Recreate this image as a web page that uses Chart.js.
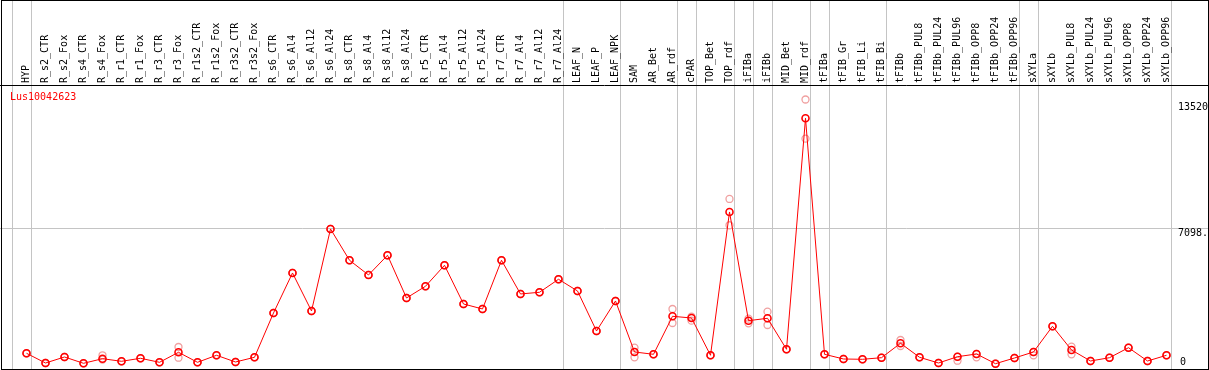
<!DOCTYPE html>
<html>
<head>
<meta charset="utf-8">
<script src="https://cdn.jsdelivr.net/npm/chart.js@4/dist/chart.umd.min.js"></script>
<style>
  html, body { margin: 0; padding: 0; background: #fff; }
  canvas { display: block; }
</style>
</head>
<body>
<canvas id="myChart" width="1209" height="370"></canvas>
<script>
const geneName = 'Lus10042623'

const categories = [
    'HYP', 'R_s2_CTR', 'R_s2_Fox', 'R_s4_CTR', 'R_s4_Fox', 'R_r1_CTR', 'R_r1_Fox', 'R_r3_CTR', 'R_r3_Fox',
    'R_r1s2_CTR', 'R_r1s2_Fox', 'R_r3s2_CTR', 'R_r3s2_Fox',
    'R_s6_CTR', 'R_s6_Al4', 'R_s6_Al12', 'R_s6_Al24', 'R_s8_CTR', 'R_s8_Al4', 'R_s8_Al12', 'R_s8_Al24',
    'R_r5_CTR', 'R_r5_Al4', 'R_r5_Al12', 'R_r5_Al24', 'R_r7_CTR', 'R_r7_Al4', 'R_r7_Al12', 'R_r7_Al24',
    'LEAF_N', 'LEAF_P', 'LEAF_NPK', 'SAM', 'AR_Bet', 'AR_rdf', 'cPAR', 'TOP_Bet', 'TOP_rdf',
    'iFIBa', 'iFIBb', 'MID_Bet', 'MID_rdf', 'tFIBa', 'tFIB_Gr', 'tFIB_Li', 'tFIB_Bi', 'tFIBb',
    'tFIBb_PUL8', 'tFIBb_PUL24', 'tFIBb_PUL96', 'tFIBb_OPP8', 'tFIBb_OPP24', 'tFIBb_OPP96',
    'sXYLa', 'sXYLb', 'sXYLb_PUL8', 'sXYLb_PUL24', 'sXYLb_PUL96', 'sXYLb_OPP8', 'sXYLb_OPP24', 'sXYLb_OPP96'
]

// mean expression per sample
const meanValues = [
    835, 350, 650, 335, 565, 435, 585, 385, 885, 385, 735, 400, 635,
    2850, 4850, 2950, 7050, 5485, 4750, 5735, 3600, 4185, 5235, 3300, 3050, 5485, 3800, 3885, 4535,
    3950, 1950, 3450, 900, 785, 2685, 2600, 735, 7900,
    2465, 2585, 1035, 12585, 785, 550, 535, 615, 1335,
    635, 350, 665, 800, 315, 600,
    900, 2185, 1000, 450, 615, 1115, 450, 735
]

// replicates (light red circles)
const rep1Values = [
    835, 350, 650, 335, 735, 435, 585, 385, 1150, 385, 735, 400, 635,
    2850, 4850, 2950, 7050, 5485, 4750, 5735, 3600, 4185, 5235, 3300, 3050, 5485, 3800, 3885, 4535,
    3950, 1950, 3450, 1115, 785, 3050, 2665, 735, 8550,
    2565, 2915, 1035, 13520, 785, 550, 535, 615, 1500,
    635, 350, 665, 800, 315, 600,
    900, 2185, 1165, 450, 615, 1115, 450, 735
]
const rep2Values = [
    835, 350, 650, 335, 520, 435, 585, 385, 615, 385, 735, 400, 635,
    2850, 4850, 2950, 7050, 5485, 4750, 5735, 3600, 4185, 5235, 3300, 3050, 5485, 3800, 3885, 4535,
    3950, 1950, 3450, 635, 785, 2350, 2465, 735, 7235,
    2335, 2250, 1035, 11565, 785, 550, 535, 615, 1200,
    635, 350, 465, 635, 315, 600,
    735, 2185, 785, 450, 615, 1115, 450, 735
]

// index of the last sample in each group (a grey separator follows it)
const groupEnds = [-1, 0, 28, 31, 34, 35, 37, 38, 39, 41, 42, 45, 52, 53, 60]

const yAxisMax = 14196
const yTickValues = [0, 7098, 13520]
const yTickLabels = ['0', '7098.0', '13520']

const FONT = '10px "DejaVu Sans Mono", monospace'

const framePlugin = {
    id: 'frame',
    beforeDatasetsDraw(chart) {
        let ctx = chart.ctx
        let x = chart.scales.x
        let y = chart.scales.y
        let W = chart.width
        let H = chart.height
        ctx.save()
        ctx.strokeStyle = '#c4c4c4'
        ctx.lineWidth = 1
        // horizontal grid at middle tick
        let gy = Math.round(y.getPixelForValue(yTickValues[1])) + 0.5
        ctx.beginPath()
        ctx.moveTo(0, gy)
        ctx.lineTo(W, gy)
        ctx.stroke()
        // group separators
        groupEnds.forEach(i => {
            let gx = Math.round(x.getPixelForValue(i) + 4) + 0.5
            ctx.beginPath()
            ctx.moveTo(gx, 0)
            ctx.lineTo(gx, H)
            ctx.stroke()
        })
        // black frame and header line
        ctx.strokeStyle = '#000'
        ctx.beginPath()
        ctx.moveTo(0, chart.chartArea.top - 0.5)
        ctx.lineTo(W, chart.chartArea.top - 0.5)
        ctx.stroke()
        ctx.strokeRect(1.5, 0.5, 1207, 369)
        ctx.restore()
    },
    afterDraw(chart) {
        let ctx = chart.ctx
        let x = chart.scales.x
        let y = chart.scales.y
        let top = chart.chartArea.top
        ctx.save()
        ctx.font = FONT
        ctx.fillStyle = '#000'
        ctx.textBaseline = 'middle'
        ctx.textAlign = 'left'
        // sample labels, rotated
        categories.forEach((name, i) => {
            ctx.save()
            ctx.translate(x.getPixelForValue(i), top - 3)
            ctx.rotate(-Math.PI / 2)
            ctx.fillText(name, 0, 0)
            ctx.restore()
        })
        // gene name
        ctx.fillStyle = '#ff0000'
        ctx.fillText(geneName, 10, top + 11)
        // right side value labels
        ctx.beginPath()
        ctx.rect(0, 0, 1208, chart.height)
        ctx.clip()
        ctx.fillStyle = '#000'
        ctx.fillText(yTickLabels[2], 1178, y.getPixelForValue(yTickValues[2]) + 8)
        ctx.fillText(yTickLabels[1], 1178, y.getPixelForValue(yTickValues[1]) + 5)
        ctx.fillText(yTickLabels[0], 1180, y.getPixelForValue(yTickValues[0]) - 8)
        ctx.restore()
    }
}

let currentChart = new Chart(document.getElementById('myChart'), {
    type: 'line',
    data: {
        labels: categories,
        datasets: [{
            label: 'mean',
            data: meanValues,
            order: 0,
            borderColor: '#ff0000',
            borderWidth: 1,
            pointRadius: 3.5,
            pointBorderWidth: 1.6,
            pointBorderColor: '#ff0000',
            pointBackgroundColor: 'rgba(0,0,0,0)',
            tension: 0
        }, {
            label: 'rep1',
            data: rep1Values,
            order: 1,
            showLine: false,
            pointRadius: 3.5,
            pointBorderWidth: 1.3,
            pointBorderColor: '#f0a0a0',
            pointBackgroundColor: 'rgba(0,0,0,0)'
        }, {
            label: 'rep2',
            data: rep2Values,
            order: 1,
            showLine: false,
            pointRadius: 3.5,
            pointBorderWidth: 1.3,
            pointBorderColor: '#f0a0a0',
            pointBackgroundColor: 'rgba(0,0,0,0)'
        }]
    },
    options: {
        responsive: false,
        animation: false,
        devicePixelRatio: 1,
        layout: { autoPadding: false, padding: { left: 17, right: 33, top: 86, bottom: 0 } },
        plugins: {
            legend: { display: false },
            tooltip: { enabled: false }
        },
        scales: {
            x: { type: 'category', display: false, offset: true },
            y: { display: false, min: 0, max: yAxisMax }
        }
    },
    plugins: [framePlugin]
})
</script>
</body>
</html>
